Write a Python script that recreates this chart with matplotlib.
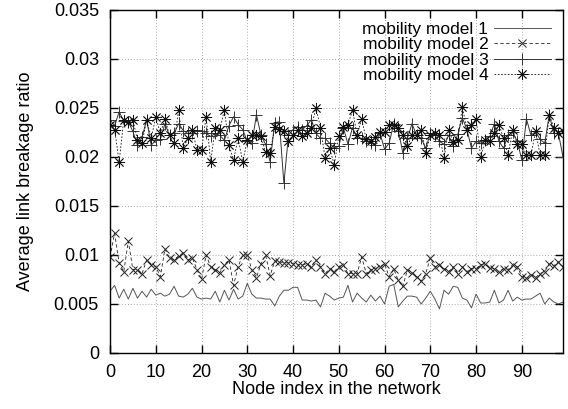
import numpy as np
import matplotlib
matplotlib.use("Agg")
from matplotlib import pyplot as plt

plt.rcParams['font.family'] = ['Liberation Sans', 'DejaVu Sans']

nodes = np.arange(100)

model1 = [0.0063, 0.0069, 0.0056, 0.0065, 0.0055, 0.0066, 0.0056, 0.0063, 0.0057, 0.0065,
          0.0059, 0.0061, 0.0058, 0.0060, 0.0068, 0.0058, 0.0057, 0.0060, 0.0066, 0.0057,
          0.0055, 0.0056, 0.0055, 0.0063, 0.0052, 0.0064, 0.0054, 0.0065, 0.0055, 0.0058,
          0.0071, 0.0060, 0.0056, 0.0056, 0.0055, 0.0055, 0.0048, 0.0058, 0.0064, 0.0064,
          0.0067, 0.0067, 0.0054, 0.0054, 0.0053, 0.0054, 0.0047, 0.0061, 0.0058, 0.0054,
          0.0056, 0.0057, 0.0069, 0.0052, 0.0061, 0.0056, 0.0052, 0.0059, 0.0053, 0.0058,
          0.0050, 0.0068, 0.0070, 0.0047, 0.0053, 0.0058, 0.0058, 0.0057, 0.0050, 0.0056,
          0.0063, 0.0055, 0.0045, 0.0064, 0.0060, 0.0068, 0.0067, 0.0056, 0.0054, 0.0046,
          0.0060, 0.0051, 0.0051, 0.0052, 0.0064, 0.0051, 0.0054, 0.0064, 0.0053, 0.0057,
          0.0054, 0.0055, 0.0055, 0.0058, 0.0061, 0.0050, 0.0056, 0.0052, 0.0050, 0.0052]

model2 = [0.0098, 0.0122, 0.0092, 0.0083, 0.0114, 0.0085, 0.0085, 0.0081, 0.0095, 0.0090,
          0.0088, 0.0078, 0.0106, 0.0097, 0.0095, 0.0099, 0.0102, 0.0095, 0.0097, 0.0085,
          0.0075, 0.0100, 0.0088, 0.0085, 0.0082, 0.0090, 0.0095, 0.0069, 0.0088, 0.0100,
          0.0100, 0.0085, 0.0077, 0.0091, 0.0100, 0.0079, 0.0094, 0.0093, 0.0092, 0.0092,
          0.0091, 0.0090, 0.0090, 0.0091, 0.0088, 0.0095, 0.0088, 0.0081, 0.0086, 0.0083,
          0.0088, 0.0090, 0.0081, 0.0081, 0.0081, 0.0098, 0.0081, 0.0085, 0.0086, 0.0088,
          0.0091, 0.0078, 0.0086, 0.0074, 0.0068, 0.0085, 0.0082, 0.0078, 0.0073, 0.0081,
          0.0097, 0.0088, 0.0090, 0.0086, 0.0083, 0.0088, 0.0081, 0.0088, 0.0083, 0.0086,
          0.0086, 0.0090, 0.0091, 0.0087, 0.0086, 0.0083, 0.0086, 0.0085, 0.0090, 0.0088,
          0.0078, 0.0076, 0.0080, 0.0077, 0.0081, 0.0083, 0.0091, 0.0089, 0.0093, 0.0088]

model3 = [0.0238, 0.0232, 0.0246, 0.0237, 0.0236, 0.0226, 0.0212, 0.0220, 0.0238, 0.0212,
          0.0217, 0.0218, 0.0234, 0.0222, 0.0224, 0.0234, 0.0227, 0.0224, 0.0224, 0.0227,
          0.0227, 0.0224, 0.0221, 0.0224, 0.0222, 0.0217, 0.0232, 0.0241, 0.0233, 0.0228,
          0.0216, 0.0214, 0.0243, 0.0222, 0.0213, 0.0195, 0.0235, 0.0236, 0.0173, 0.0222,
          0.0228, 0.0231, 0.0228, 0.0232, 0.0238, 0.0224, 0.0219, 0.0219, 0.0214, 0.0209,
          0.0211, 0.0230, 0.0213, 0.0230, 0.0219, 0.0219, 0.0216, 0.0214, 0.0212, 0.0224,
          0.0208, 0.0214, 0.0234, 0.0227, 0.0204, 0.0219, 0.0234, 0.0222, 0.0219, 0.0209,
          0.0224, 0.0222, 0.0216, 0.0213, 0.0222, 0.0211, 0.0223, 0.0240, 0.0228, 0.0209,
          0.0216, 0.0214, 0.0217, 0.0221, 0.0234, 0.0216, 0.0209, 0.0222, 0.0225, 0.0216,
          0.0197, 0.0239, 0.0222, 0.0226, 0.0218, 0.0214, 0.0243, 0.0224, 0.0224, 0.0200]

model4 = [0.0233, 0.0228, 0.0195, 0.0238, 0.0236, 0.0238, 0.0217, 0.0214, 0.0238, 0.0219,
          0.0241, 0.0224, 0.0239, 0.0222, 0.0214, 0.0248, 0.0209, 0.0219, 0.0228, 0.0207,
          0.0207, 0.0241, 0.0195, 0.0230, 0.0228, 0.0248, 0.0212, 0.0197, 0.0219, 0.0195,
          0.0217, 0.0222, 0.0222, 0.0221, 0.0205, 0.0204, 0.0231, 0.0229, 0.0227, 0.0216,
          0.0222, 0.0228, 0.0221, 0.0224, 0.0230, 0.0250, 0.0230, 0.0199, 0.0209, 0.0192,
          0.0221, 0.0231, 0.0233, 0.0248, 0.0222, 0.0239, 0.0218, 0.0216, 0.0220, 0.0225,
          0.0225, 0.0233, 0.0233, 0.0230, 0.0222, 0.0211, 0.0222, 0.0222, 0.0228, 0.0204,
          0.0222, 0.0224, 0.0222, 0.0199, 0.0228, 0.0215, 0.0217, 0.0251, 0.0228, 0.0233,
          0.0239, 0.0200, 0.0217, 0.0216, 0.0224, 0.0233, 0.0219, 0.0202, 0.0228, 0.0213,
          0.0213, 0.0202, 0.0202, 0.0226, 0.0202, 0.0202, 0.0243, 0.0230, 0.0224, 0.0226]

labels = ['mobility model 1', 'mobility model 2', 'mobility model 3', 'mobility model 4']
x_ticks = list(range(0, 100, 10))
y_ticks = [0, 0.005, 0.01, 0.015, 0.02, 0.025, 0.03, 0.035]
y_ticklabels = ['0', '0.005', '0.01', '0.015', '0.02', '0.025', '0.03', '0.035']

fig = plt.figure(figsize=(5.68, 4.09), dpi=100)
ax = fig.add_axes([0.1937, 0.137, 0.7975, 0.8386])

ax.plot(nodes, model1, color='#555555', lw=0.7, label=labels[0])
ax.plot(nodes, model2, color='#222222', lw=0.6, ls=(0, (4, 3)), marker='x',
        ms=6, mew=0.7, label=labels[1])
ax.plot(nodes, model3, color='#333333', lw=0.7, marker='+', ms=8, mew=0.7,
        label=labels[2])
ax.plot(nodes, model4, color='#111111', lw=0.6, ls=(0, (2, 2)), marker=(8, 2, 0),
        ms=8, mew=0.6, label=labels[3])

ax.set_xlim(0, 99)
ax.set_ylim(0, 0.035)
ax.set_xticks(x_ticks)
ax.set_yticks(y_ticks)
ax.set_yticklabels(y_ticklabels)
ax.tick_params(direction='in', length=6, width=1, top=True, right=True,
               labelsize=13, pad=8, colors='black')
ax.grid(True, color='#aaaaaa', ls=(0, (1, 2)), lw=0.7)
for s in ax.spines.values():
    s.set_linewidth(1)
    s.set_color('black')

ax.set_xlabel('Node index in the network', fontsize=13, labelpad=0)
ax.set_ylabel('Average link breakage ratio', fontsize=13, labelpad=14)

ax.legend(loc='upper right', frameon=False, fontsize=12.5, markerfirst=False,
          labelspacing=0.0, handlelength=3.3, handletextpad=0.3,
          borderaxespad=0.5, borderpad=0.2)

fig.savefig('out.png', dpi=100)
